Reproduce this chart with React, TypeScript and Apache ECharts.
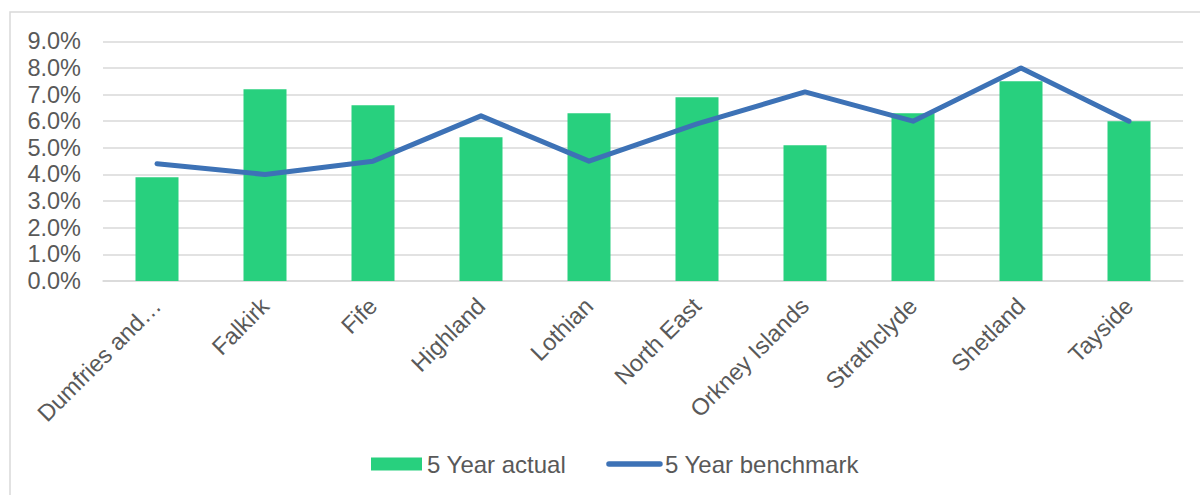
import React, { useEffect, useRef } from "react";
import * as echarts from "echarts";

const categories = [
  "Dumfries and…",
  "Falkirk",
  "Fife",
  "Highland",
  "Lothian",
  "North East",
  "Orkney Islands",
  "Strathclyde",
  "Shetland",
  "Tayside",
];
const actual = [3.9, 7.2, 6.6, 5.4, 6.3, 6.9, 5.1, 6.3, 7.5, 6.0];
const benchmark = [4.4, 4.0, 4.5, 6.2, 4.5, 5.9, 7.1, 6.0, 8.0, 6.0];
const seriesNames = ["5 Year actual", "5 Year benchmark"];

const FONT = "'Liberation Sans', Arial, sans-serif";
const TEXT = "#595959";
const GRID = "#d9d9d9";
const GREEN = "#28d07e";
const BLUE = "#3d72b6";

export default function App() {
  const ref = useRef<HTMLDivElement>(null);
  useEffect(() => {
    if (!ref.current) return;
    const chart = echarts.init(ref.current, null, { renderer: "svg" });
    chart.setOption({
      animation: false,
      backgroundColor: "#ffffff",
      textStyle: { fontFamily: FONT },
      graphic: [
        {
          type: "rect",
          shape: { x: 10, y: 12, width: 1200, height: 500 },
          style: { fill: "none", stroke: GRID, lineWidth: 1.5 },
          silent: true,
        },
      ],
      grid: { left: 103, right: 17, top: 41.3, bottom: 214 },
      legend: {
        left: 371,
        top: 452,
        padding: 0,
        itemWidth: 51,
        itemHeight: 13,
        itemGap: 40,
        textStyle: { fontFamily: FONT, fontSize: 24, color: TEXT },
        data: [
          { name: seriesNames[0], icon: "rect" },
          {
            name: seriesNames[1],
            itemStyle: { opacity: 0 },
            lineStyle: { width: 5.5, cap: "round", color: BLUE },
          },
        ],
      },
      xAxis: {
        type: "category",
        data: categories,
        axisTick: { show: false },
        axisLine: { show: true, lineStyle: { color: GRID, width: 1.5 } },
        axisLabel: {
          interval: 0,
          rotate: 45,
          margin: 21,
          fontFamily: FONT,
          fontSize: 23.5,
          color: TEXT,
        },
      },
      yAxis: {
        type: "value",
        min: 0,
        max: 9,
        interval: 1,
        axisLine: { show: false },
        axisTick: { show: false },
        splitLine: { lineStyle: { color: GRID, width: 1.5 } },
        axisLabel: {
          margin: 22,
          fontFamily: FONT,
          fontSize: 23.5,
          color: TEXT,
          formatter: (v: number) => v.toFixed(1) + "%",
        },
      },
      series: [
        {
          name: seriesNames[0],
          type: "bar",
          data: actual,
          barWidth: 43,
          itemStyle: { color: GREEN },
        },
        {
          name: seriesNames[1],
          type: "line",
          data: benchmark,
          symbol: "none",
          showSymbol: false,
          lineStyle: { color: BLUE, width: 5, cap: "round", join: "round" },
          itemStyle: { color: BLUE },
        },
      ],
    });
    return () => chart.dispose();
  }, []);
  return (
    <div
      ref={ref}
      style={{ position: "absolute", left: 0, top: 0, width: 1200, height: 495 }}
    />
  );
}
